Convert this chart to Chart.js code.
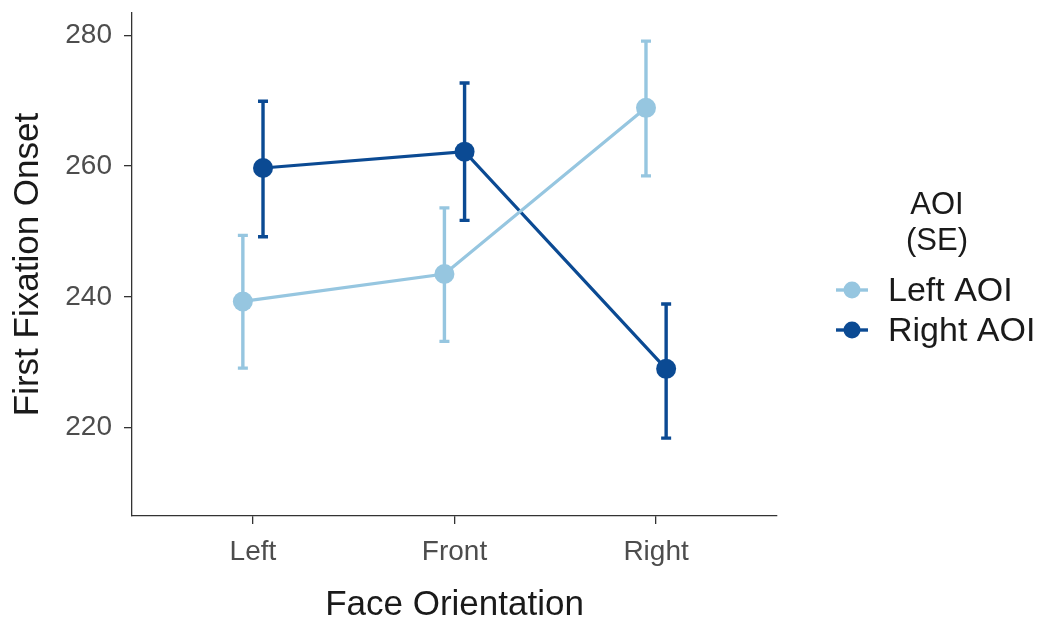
<!DOCTYPE html>
<html>
<head>
<meta charset="utf-8">
<script src="https://cdn.jsdelivr.net/npm/chart.js@4.4.1/dist/chart.umd.min.js"></script>
<style>
  body { margin: 0; background: #fff; }
  #wrap { width: 1045px; height: 619px; position: relative; }
</style>
</head>
<body>
<div id="wrap"><canvas id="grafico"></canvas></div>
<script>
// Datos
const categorias = ['Left', 'Front', 'Right'];
const nombresSeries = ['Left AOI', 'Right AOI'];
const leftMedia = [239.3, 243.5, 268.9];
const leftBajo = [229.1, 233.2, 258.5];
const leftAlto = [249.4, 253.6, 279.1];
const rightMedia = [259.7, 262.2, 229.0];
const rightBajo = [249.2, 251.7, 218.4];
const rightAlto = [269.9, 272.7, 238.9];
const ticksY = [220, 240, 260, 280];

const colores = ['#96C6E0', '#0B4A93'];
const desplazamiento = [-0.05, 0.05];
const fuente = "'Liberation Sans', Arial, sans-serif";

const series = [
    { media: leftMedia, bajo: leftBajo, alto: leftAlto },
    { media: rightMedia, bajo: rightBajo, alto: rightAlto }
];

function puntos(idx) {
    return series[idx].media.map((v, i) => ({ x: i + 1 + desplazamiento[idx], y: v }));
}

// Barras de error (media +/- SE) dibujadas con las escalas del gráfico
const barrasError = {
    id: 'barrasError',
    beforeDatasetsDraw(chart) {
        const ctx = chart.ctx;
        const xs = chart.scales.x;
        const ys = chart.scales.y;
        series.forEach((s, idx) => {
            ctx.save();
            ctx.strokeStyle = colores[idx];
            ctx.lineWidth = 3.4;
            s.media.forEach((v, i) => {
                const x = xs.getPixelForValue(i + 1 + desplazamiento[idx]);
                const y1 = ys.getPixelForValue(s.bajo[i]);
                const y2 = ys.getPixelForValue(s.alto[i]);
                ctx.beginPath();
                ctx.moveTo(x, y1); ctx.lineTo(x, y2);
                ctx.moveTo(x - 5, y1); ctx.lineTo(x + 5, y1);
                ctx.moveTo(x - 5, y2); ctx.lineTo(x + 5, y2);
                ctx.stroke();
            });
            ctx.restore();
        });
    }
};

// Leyenda a la derecha, estilo ggplot
const leyenda = {
    id: 'leyenda',
    afterDraw(chart) {
        const ctx = chart.ctx;
        ctx.save();
        ctx.fillStyle = '#1a1a1a';
        ctx.textAlign = 'center';
        ctx.textBaseline = 'middle';
        ctx.font = `31px ${fuente}`;
        ctx.fillText('AOI', 937, 205);
        ctx.fillText('(SE)', 937, 241);

        const filas = [290, 330];
        nombresSeries.forEach((nombre, i) => {
            const y = filas[i];
            ctx.strokeStyle = colores[i];
            ctx.lineWidth = 3.4;
            ctx.beginPath();
            ctx.moveTo(836, y); ctx.lineTo(868, y);
            ctx.stroke();
            ctx.fillStyle = colores[i];
            ctx.beginPath();
            ctx.arc(852, y, 8.5, 0, Math.PI * 2);
            ctx.fill();
            ctx.fillStyle = '#1a1a1a';
            ctx.textAlign = 'left';
            ctx.font = `34px ${fuente}`;
            ctx.fillText(nombre, 888, y + 2);
        });
        ctx.restore();
    }
};

const ctx = document.getElementById('grafico').getContext('2d');
new Chart(ctx, {
    type: 'line',
    data: {
        datasets: nombresSeries.map((nombre, idx) => ({
            label: nombre,
            data: puntos(idx),
            borderColor: colores[idx],
            backgroundColor: colores[idx],
            borderWidth: 3.2,
            pointRadius: 10,
            pointHoverRadius: 10,
            pointBorderWidth: 0,
            tension: 0
        }))
    },
    options: {
        responsive: true,
        maintainAspectRatio: false,
        animation: false,
        devicePixelRatio: 1,
        layout: { padding: { top: 13, right: 268, left: 0, bottom: 0 } },
        plugins: {
            legend: { display: false },
            tooltip: { enabled: false }
        },
        scales: {
            x: {
                type: 'linear',
                min: 0.4,
                max: 3.6,
                afterBuildTicks: (scale) => {
                    scale.ticks = categorias.map((c, i) => ({ value: i + 1 }));
                },
                afterFit: (scale) => { scale.height = 103; },
                ticks: {
                    callback: (v) => categorias[v - 1],
                    color: '#4D4D4D',
                    font: { family: fuente, size: 28 },
                    padding: 11,
                    maxRotation: 0
                },
                grid: {
                    display: true,
                    drawOnChartArea: false,
                    drawTicks: true,
                    tickLength: 8,
                    color: '#333333',
                    lineWidth: 1.3
                },
                border: { display: true, color: '#333333', width: 1.3 },
                title: {
                    display: true,
                    text: 'Face Orientation',
                    color: '#1a1a1a',
                    font: { family: fuente, size: 35, lineHeight: 0.8 },
                    padding: { top: 0, bottom: 0 }
                }
            },
            y: {
                type: 'linear',
                min: 206.5,
                max: 283.4,
                afterBuildTicks: (scale) => {
                    scale.ticks = ticksY.map(v => ({ value: v }));
                },
                afterFit: (scale) => {
                    scale.width = 132;
                    scale.paddingTop = 0;
                    scale.paddingBottom = 0;
                },
                ticks: {
                    color: '#4D4D4D',
                    font: { family: fuente, size: 28 },
                    padding: 12
                },
                grid: {
                    display: true,
                    drawOnChartArea: false,
                    drawTicks: true,
                    tickLength: 8,
                    color: '#333333',
                    lineWidth: 1.3
                },
                border: { display: true, color: '#333333', width: 1.3 },
                title: {
                    display: true,
                    text: 'First Fixation Onset',
                    color: '#1a1a1a',
                    font: { family: fuente, size: 35, lineHeight: 1 },
                    padding: { top: 11, bottom: 0 }
                }
            }
        }
    },
    plugins: [barrasError, leyenda]
});
</script>
</body>
</html>
